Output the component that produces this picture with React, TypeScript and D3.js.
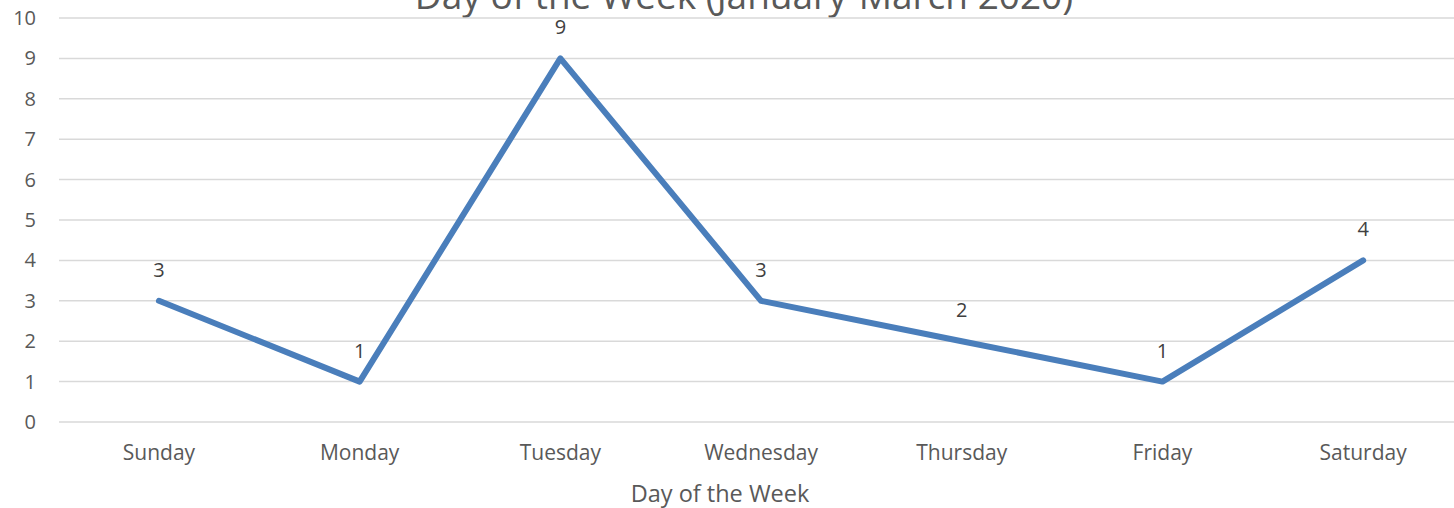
import React from "react";
import * as d3 from "d3";

const categories = ["Sunday", "Monday", "Tuesday", "Wednesday", "Thursday", "Friday", "Saturday"];
const values = [3, 1, 9, 3, 2, 1, 4];
const yTicks = [0, 1, 2, 3, 4, 5, 6, 7, 8, 9, 10];
const chartTitle = "Day of the Week (January-March 2020)";
const xAxisTitle = "Day of the Week";

const W = 1454;
const H = 508;
const FONT = "'Open Sans', sans-serif";

export default function App() {
  const x = d3.scaleBand<string>().domain(categories).range([58.6, 1463.5]);
  const y = d3.scaleLinear().domain([0, 10]).range([422, 18]);
  const cx = (c: string) => (x(c) as number) + x.bandwidth() / 2;
  const line = d3
    .line<number>()
    .x((_, i) => cx(categories[i]))
    .y((d) => y(d));

  return (
    <svg width={W} height={H} style={{ position: "absolute", left: 0, top: 0, background: "#fff" }}>
      <rect width={W} height={H} fill="#fff" />
      <text x={744} y={9} textAnchor="middle" fontFamily={FONT} fontSize={37} fill="#595959">
        {chartTitle}
      </text>
      {yTicks.map((t) => (
        <g key={t}>
          <line x1={59} x2={1464} y1={y(t)} y2={y(t)} stroke="#D9D9D9" strokeWidth={1.5} />
          <text x={36} y={y(t)} dy="0.35em" textAnchor="end" fontFamily={FONT} fontSize={20} fill="#595959">
            {t}
          </text>
        </g>
      ))}
      {categories.map((c) => (
        <text key={c} x={cx(c)} y={460} textAnchor="middle" fontFamily={FONT} fontSize={21} fill="#595959">
          {c}
        </text>
      ))}
      <path d={line(values) || ""} fill="none" stroke="#4A7EBB" strokeWidth={6} strokeLinejoin="round" strokeLinecap="round" />
      {values.map((v, i) => (
        <text key={i} x={cx(categories[i])} y={y(v) - 31} dy="0.35em" textAnchor="middle" fontFamily={FONT} fontSize={20} fill="#404040">
          {v}
        </text>
      ))}
      <text x={720} y={502} textAnchor="middle" fontFamily={FONT} fontSize={23.5} fill="#595959">
        {xAxisTitle}
      </text>
    </svg>
  );
}
